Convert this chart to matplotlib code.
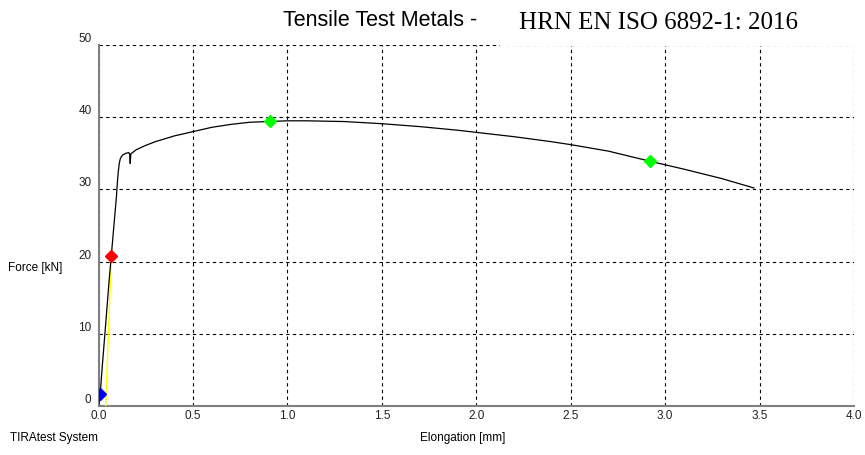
import matplotlib
matplotlib.use("Agg")
import matplotlib.pyplot as plt
from matplotlib.patches import Rectangle

plt.rcParams['font.family'] = ['Liberation Sans', 'DejaVu Sans']

# Curve data (elongation mm, force kN)
elong = [0.0, 0.005, 0.01, 0.02, 0.04, 0.055, 0.07, 0.085, 0.095, 0.10, 0.105, 0.11, 0.115,
         0.12, 0.13, 0.145, 0.16, 0.165, 0.168, 0.171, 0.18, 0.2, 0.25, 0.3, 0.4, 0.5,
         0.6, 0.7, 0.8, 0.9, 1.0, 1.1, 1.2, 1.3, 1.4, 1.5, 1.7, 1.9, 2.0, 2.2, 2.4,
         2.5, 2.7, 2.92, 3.1, 3.3, 3.47]
force = [0.0, 1.0, 2.0, 5.5, 12.0, 17.0, 21.5, 26.0, 29.0, 31.0, 32.5, 33.6, 34.2,
         34.5, 34.8, 35.0, 35.1, 34.9, 33.6, 34.9, 35.1, 35.5, 36.1, 36.6, 37.4, 38.0,
         38.6, 39.0, 39.3, 39.4, 39.5, 39.5, 39.45, 39.4, 39.25, 39.1, 38.7, 38.2, 37.9, 37.3, 36.6,
         36.2, 35.3, 33.9, 32.8, 31.5, 30.2]

# Elastic fit line (yellow)
fit_x = [0.038, 0.068]
fit_y = [0.0, 20.8]

# Marker points
blue_pt = (0.008, 1.7)
red_pt = (0.068, 20.8)
green_x = [0.91, 2.92]
green_y = [39.5, 33.9]

xticks = [0.0, 0.5, 1.0, 1.5, 2.0, 2.5, 3.0, 3.5, 4.0]
yticks = [0, 10, 20, 30, 40, 50]

fig = plt.figure(figsize=(8.65, 4.55), dpi=100)
ax = fig.add_axes([98.5/865, 1-406/455, (854-98.5)/865, (406-45)/455])

ax.plot(fit_x, fit_y, color='#ffff00', lw=1.0, zorder=3)
ax.plot(elong, force, color='black', lw=0.9, zorder=4)
ax.plot(*blue_pt, marker='D', color='#0000ff', ms=6, zorder=5)
ax.plot(*red_pt, marker='D', color='#ff0000', ms=6, zorder=5)
ax.plot(green_x, green_y, 'D', color='#00ff00', ms=6, ls='none', zorder=5)

ax.set_xlim(0, 4)
ax.set_ylim(0, 50)
ax.set_xticks(xticks)
ax.set_yticks(yticks)
ax.set_xticklabels([f"{v:.1f}" for v in xticks])
ax.set_yticklabels([str(v) for v in yticks])
for lbl in ax.get_yticklabels():
    lbl.set_verticalalignment('bottom')
ax.tick_params(length=0, labelsize=8.5, pad=3, colors='#222222')
ax.tick_params(axis='y', pad=5)

ax.grid(True, color='black', linestyle=(0, (3, 3)), lw=0.8)
for s in ['top', 'right']:
    ax.spines[s].set_visible(False)
for s in ['left', 'bottom']:
    ax.spines[s].set_color('#808080')
    ax.spines[s].set_linewidth(1.5)

fig.text(8/865, 1-268/455, "Force [kN]", fontsize=8.5, va='center', ha='left')
fig.text(10/865, 1-438/455, "TIRAtest System", fontsize=8.5, va='center', ha='left')
fig.text(463/865, 1-438/455, "Elongation [mm]", fontsize=8.5, va='center', ha='center')

fig.patches.append(Rectangle((500/865, 1-46/455), 365/865, 46/455, transform=fig.transFigure,
                             facecolor='white', edgecolor='none', zorder=10))
fig.text(283/865, 1-21/455, "Tensile Test Metals -", fontsize=15.5, va='center', ha='left', zorder=11)
fig.text(519/865, 1-23/455, "HRN EN ISO 6892-1: 2016", fontsize=18, va='center', ha='left',
         family='Liberation Serif', zorder=11)

fig.savefig("out.png", dpi=100)
